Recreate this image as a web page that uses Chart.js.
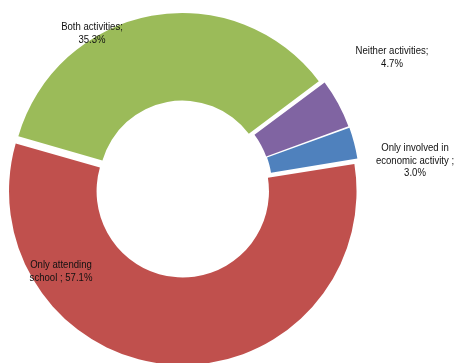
<!DOCTYPE html>
<html>
<head>
<meta charset="utf-8">
<script src="https://cdn.jsdelivr.net/npm/chart.js@4"></script>
<style>
  html, body { margin: 0; padding: 0; background: #fff; }
  canvas { display: block; }
</style>
</head>
<body>
<canvas id="activityChart" width="454" height="363"></canvas>
<script>
// Children by activity status (share, %)
const categories = ['Only involved in economic activity', 'Only attending school', 'Both activities', 'Neither activities'];
const shares = [3.0, 57.1, 35.3, 4.7];
// wrapped label text, {v} is replaced by the share
const labelLines = [
    ['Only involved in', 'economic activity ;', '{v}'],
    ['Only attending', 'school ; {v}'],
    ['Both activities;', '{v}'],
    ['Neither activities;', '{v}']
];

const sliceColors = ['#4F81BD', '#C0504D', '#9BBB59', '#8064A2'];
// centre of each label block (first line baseline-middle)
const labelPos = [[415, 148], [61, 265], [92, 27], [392, 51]];

// Data labels placed beside the slices, slightly condensed like the office font
const sliceLabels = {
    id: 'sliceLabels',
    afterDatasetsDraw(chart) {
        const ctx = chart.ctx;
        ctx.save();
        ctx.fillStyle = '#111';
        ctx.font = '11px "Liberation Sans", Arial, sans-serif';
        ctx.textAlign = 'center';
        ctx.textBaseline = 'middle';
        labelLines.forEach((lines, i) => {
            const [x, y] = labelPos[i];
            lines.forEach((line, j) => {
                const text = line.replace('{v}', shares[i].toFixed(1) + '%');
                ctx.save();
                ctx.translate(x, y + j * 12.7);
                ctx.scale(0.87, 1);
                ctx.fillText(text, 0, 0);
                ctx.restore();
            });
        });
        ctx.restore();
    }
};

new Chart(document.getElementById('activityChart'), {
    type: 'doughnut',
    data: {
        labels: categories,
        datasets: [{
            data: shares,
            backgroundColor: sliceColors,
            borderWidth: 0,
            offset: 15
        }]
    },
    options: {
        responsive: false,
        animation: false,
        rotation: 70,
        radius: 170,
        cutout: '48.5%',
        layout: { padding: { top: 12, right: 88, left: 0, bottom: 0 } },
        plugins: {
            legend: { display: false },
            tooltip: { enabled: false }
        }
    },
    plugins: [sliceLabels]
});
</script>
</body>
</html>
